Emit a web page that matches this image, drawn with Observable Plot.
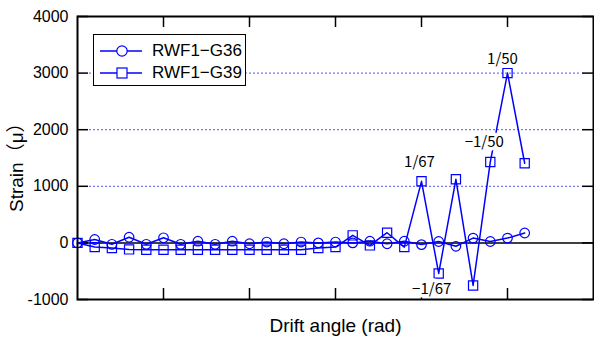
<!DOCTYPE html>
<html>
<head>
<meta charset="utf-8">
<script src="https://cdn.jsdelivr.net/npm/d3@7"></script>
<script src="https://cdn.jsdelivr.net/npm/@observablehq/plot@0.6"></script>
<style>
  html, body { margin: 0; padding: 0; background: #fff; }
  #wrap { position: relative; width: 594px; height: 343px; font-family: "Liberation Sans", Arial, sans-serif; }
  #legend { position: absolute; left: 93px; top: 34px; width: 151px; height: 50px; border: 1.5px solid #000; background: #fff; }
  .row { position: absolute; left: 0; height: 22px; display: flex; align-items: center; }
  .row span { font-size: 17px; color: #000; font-family: "Liberation Sans", Arial, sans-serif; }
</style>
</head>
<body>
<div id="wrap"></div>
<script>
// ---- data ----
const steps = [0,1,2,3,4,5,6,7,8,9,10,11,12,13,14,15,16,17,18,19,20,21,22,23,24,25,26];
const g36 = [0, 60, -25, 100, -25, 90, -25, 30, -25, 30, -15, 15, -15, 15, 0, 15, 0, 30, -15, 30, -30, 25, -60, 85, 25, 85, 175];
const g39 = [0, -74, -92, -115, -120, -120, -120, -120, -120, -120, -120, -120, -120, -120, -92, -74, 133, -44, 180, -74, 1088, -540, 1124, -752, 1430, 3000, 1407];
const seriesNames = ["RWF1\u2212G36", "RWF1\u2212G39"];
const yTicks = [-1000, 0, 1000, 2000, 3000, 4000];
const xTicks = [5, 10, 15, 20, 25];
const gridVals = [1000, 2000, 3000];
const annLabels = ["1/67", "\u22121/67", "\u22121/50", "1/50"];
const annSteps = [20, 21, 24, 25];
const annDx = [-2, -7, -6, -5];
const annDy = [-19, 16, -20, -14];

const blue = "#0000ff";
const rows36 = steps.map((s, i) => ({x: s, y: g36[i]}));
const rows39 = steps.map((s, i) => ({x: s, y: g39[i]}));
const anns = annLabels.map((t, i) => ({t, x: annSteps[i], y: g39[annSteps[i]], dx: annDx[i], dy: annDy[i]}));

const W = 594, H = 343, mL = 77, mR = 1, mT = 16, mB = 44;
const innerW = W - mL - mR, innerH = H - mT - mB;
const tl = 11;
const sans = "'Liberation Sans', Arial, sans-serif";

const annMarks = anns.map(a => Plot.text([a], {
  x: "x", y: "y", text: "t", dx: a.dx, dy: a.dy,
  fontFamily: "'Noto Sans CJK JP', 'DejaVu Sans', sans-serif", fontSize: 15,
  fill: "#000", stroke: "#fff", strokeWidth: 7
}));

const chart = Plot.plot({
  width: W, height: H,
  marginLeft: mL, marginRight: mR, marginTop: mT, marginBottom: mB,
  style: {fontFamily: sans, background: "#fff"},
  x: {domain: [0, 30], axis: null},
  y: {domain: [-1000, 4000], axis: null},
  marks: [
    Plot.ruleY(gridVals, {stroke: "#5555ff", strokeDasharray: "2,2", strokeWidth: 1, insetLeft: 12, insetRight: 12}),
    Plot.ruleY([0], {stroke: "#000", strokeWidth: 1.5}),
    Plot.tickY(yTicks, {y: d => d, insetRight: innerW - tl, stroke: "#000", strokeWidth: 1.5}),
    Plot.tickY(yTicks, {y: d => d, insetLeft: innerW - tl, stroke: "#000", strokeWidth: 1.5}),
    Plot.tickX(xTicks, {x: d => d, insetTop: innerH - tl, stroke: "#000", strokeWidth: 1.5}),
    Plot.tickX(xTicks, {x: d => d, insetBottom: innerH - tl, stroke: "#000", strokeWidth: 1.5}),
    Plot.axisY(yTicks, {tickSize: 0, tickPadding: 9, fontSize: 16, fontFamily: sans, label: null, tickFormat: d => String(d), fill: "#000"}),
    Plot.text(["Strain\uff08\u03bc\uff09"], {frameAnchor: "left", dx: -61, dy: 54, rotate: -90, fontSize: 19,
      textAnchor: "start", fontFamily: "'Liberation Sans', 'Noto Sans CJK JP', sans-serif", fill: "#000"}),
    Plot.text(["Drift angle (rad)"], {frameAnchor: "bottom", dy: 32, fontSize: 19, fontFamily: sans, fill: "#000"}),
    Plot.line(rows36, {x: "x", y: "y", stroke: blue, strokeWidth: 1.5}),
    Plot.dot(rows36, {x: "x", y: "y", r: 4.8, stroke: blue, strokeWidth: 1.2, fill: "none"}),
    Plot.line(rows39, {x: "x", y: "y", stroke: blue, strokeWidth: 1.5}),
    Plot.dot(rows39, {x: "x", y: "y", r: 5.2, symbol: "square", stroke: blue, strokeWidth: 1.2, fill: "none"}),
    ...annMarks,
    Plot.frame({stroke: "#000", strokeWidth: 2})
  ]
});

const wrap = document.getElementById("wrap");
wrap.appendChild(chart);

// legend
const legend = document.createElement("div");
legend.id = "legend";
const symbols = ["circle", "square"];
seriesNames.forEach((name, i) => {
  const row = document.createElement("div");
  row.className = "row";
  row.style.top = (5 + i * 22) + "px";
  const sw = d3.create("svg").attr("width", 50).attr("height", 22);
  sw.append("line").attr("x1", 6).attr("x2", 48).attr("y1", 11).attr("y2", 11)
    .attr("stroke", blue).attr("stroke-width", 1.5);
  if (symbols[i] === "circle") {
    sw.append("circle").attr("cx", 28).attr("cy", 11).attr("r", 5.2)
      .attr("fill", "#fff").attr("stroke", blue).attr("stroke-width", 1.2);
  } else {
    sw.append("rect").attr("x", 23).attr("y", 6).attr("width", 10).attr("height", 10)
      .attr("fill", "#fff").attr("stroke", blue).attr("stroke-width", 1.2);
  }
  row.appendChild(sw.node());
  const sp = document.createElement("span");
  sp.textContent = name;
  sp.style.marginLeft = "8px";
  row.appendChild(sp);
  legend.appendChild(row);
});
wrap.appendChild(legend);
</script>
</body>
</html>
